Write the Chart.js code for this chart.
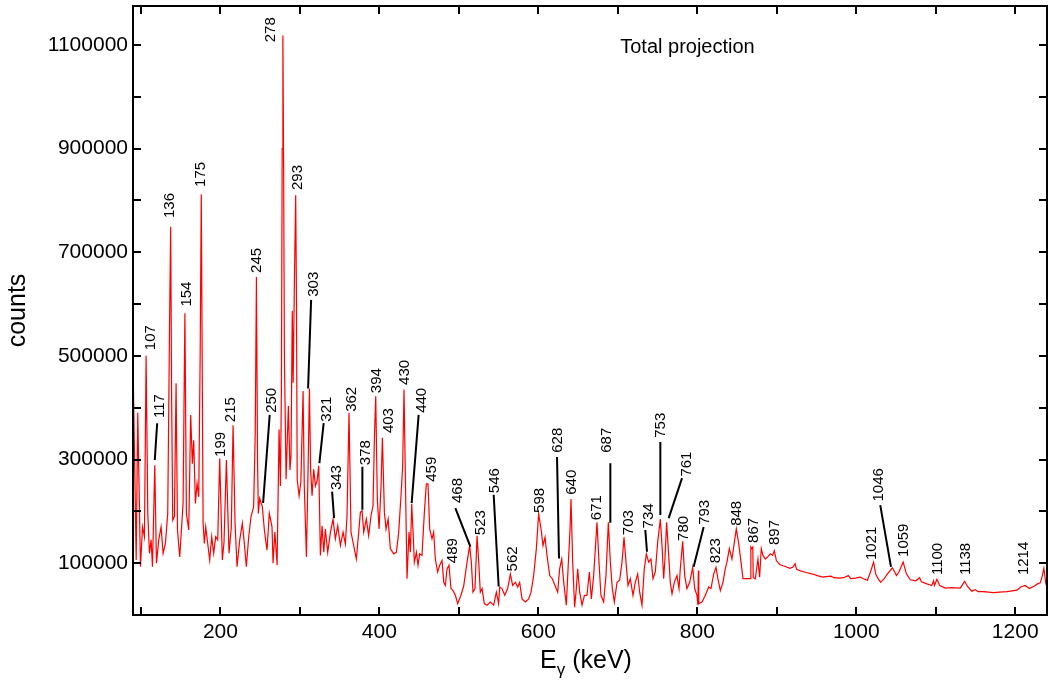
<!DOCTYPE html>
<html lang="en">
<head>
  <meta charset="UTF-8" />
  <title>Total projection</title>
  <script src="https://cdn.jsdelivr.net/npm/chart.js"></script>
  <style>
    * { margin: 0; padding: 0; box-sizing: border-box; }
    body { background: #fff; width: 1048px; height: 684px; overflow: hidden; }
    #wrap { width: 1048px; height: 684px; }
  </style>
</head>
<body>
  <div id="wrap"><canvas id="spec" width="1048" height="684"></canvas></div>

  <script>
    // spectrum: gamma energy (keV) and counts
    const energyKeV = [
      90.2, 94.0, 96.0, 99.4, 102.0, 104.4, 106.5, 108.6, 110.7, 112.8,
      114.5, 117.4, 119.5, 122.4, 125.3, 127.9, 130.8, 133.7, 136.0, 137.4,
      138.6, 140.0, 142.1, 144.2, 146.0, 148.8, 153.0, 155.3, 157.2, 160.1,
      162.6, 164.7, 166.4, 168.5, 170.6, 172.7, 174.5, 175.9, 177.2, 178.2,
      179.8, 181.5, 184.0, 186.5, 189.0, 191.5, 194.1, 196.6, 199.1, 202.4,
      204.5, 207.5, 210.8, 213.7, 215.9, 218.4, 220.9, 224.3, 227.6, 230.1,
      232.6, 235.6, 238.5, 241.8, 243.8, 245.3, 246.7, 247.7, 249.4, 252.7,
      255.3, 258.6, 261.5, 264.9, 266.2, 268.5, 271.3, 273.8, 275.5, 276.7,
      277.7, 278.6, 279.5, 280.5, 281.5, 282.6, 285.5, 287.5, 288.8, 290.4,
      291.5, 293.0, 294.7, 295.7, 296.6, 299.0, 301.2, 304.0, 305.5, 308.2,
      310.5, 312.0, 313.5, 315.3, 317.4, 319.5, 321.6, 323.7, 325.8, 327.9,
      330.0, 332.0, 335.0, 338.4, 341.7, 344.6, 347.6, 351.0, 354.3, 357.2,
      359.3, 361.8, 364.3, 367.7, 371.0, 374.0, 376.1, 378.2, 380.3, 383.6,
      386.5, 389.5, 392.0, 393.7, 395.4, 397.4, 399.6, 402.1, 403.8, 406.3,
      408.4, 411.0, 413.8, 418.0, 421.4, 424.3, 427.2, 429.3, 431.0, 433.1,
      434.8, 437.3, 439.0, 440.7, 442.4, 444.0, 446.6, 448.6, 450.7, 453.6,
      456.6, 459.1, 461.2, 463.3, 466.2, 468.3, 470.4, 473.3, 475.9, 478.8,
      481.0, 483.0, 485.1, 487.6, 490.1, 492.7, 495.6, 498.5, 501.9, 506.0,
      510.3, 513.6, 515.7, 517.8, 520.3, 522.9, 525.0, 527.0, 529.2, 532.0,
      535.4, 539.6, 543.8, 547.2, 550.0, 551.4, 554.3, 557.7, 561.4, 564.8,
      567.7, 571.1, 574.0, 576.5, 579.5, 583.7, 587.9, 590.8, 594.1, 597.5,
      600.4, 603.4, 605.9, 608.4, 610.9, 614.3, 617.6, 621.0, 624.3, 626.8,
      629.4, 631.9, 635.2, 637.8, 639.9, 641.1, 643.2, 645.7, 647.8, 649.5,
      652.0, 655.0, 658.0, 661.2, 664.2, 666.7, 669.6, 673.8, 676.3, 678.8,
      682.2, 685.1, 688.1, 690.6, 693.1, 695.6, 699.0, 702.3, 705.3, 707.8,
      710.3, 712.8, 715.7, 719.1, 722.0, 725.0, 727.5, 730.4, 733.3, 735.9,
      738.8, 741.7, 744.3, 747.2, 750.1, 753.5, 755.6, 757.7, 759.3, 761.4,
      764.0, 766.0, 768.2, 771.1, 774.4, 777.0, 778.6, 781.6, 784.2, 787.0,
      790.4, 794.2, 796.7, 799.6, 800.8, 801.3, 801.9, 805.9, 810.1, 814.3,
      817.2, 820.6, 823.5, 825.9, 829.0, 832.3, 835.2, 837.3, 840.3, 843.6,
      846.6, 849.1, 851.9, 855.0, 857.5, 862.5, 866.8, 867.4, 868.5, 869.8,
      870.4, 873.0, 876.3, 878.4, 880.5, 882.6, 885.6, 888.6, 891.9, 894.8,
      896.9, 899.5, 904.0, 910.0, 916.6, 920.0, 923.0, 925.0, 930.0, 937.0,
      945.0, 951.0, 957.7, 962.0, 968.0, 972.0, 978.6, 984.0, 990.0, 993.0,
      999.0, 1004.8, 1009.0, 1014.0, 1017.5, 1021.8, 1024.5, 1027.5, 1030.7, 1035.0,
      1039.0, 1045.5, 1050.6, 1054.0, 1059.0, 1063.0, 1068.0, 1075.0, 1079.7, 1082.0,
      1089.0, 1095.0, 1097.3, 1098.5, 1101.5, 1105.0, 1112.0, 1120.0, 1130.9, 1136.3,
      1140.0, 1145.5, 1150.0, 1153.0, 1160.0, 1172.8, 1180.0, 1189.6, 1202.2, 1207.0,
      1212.6, 1218.0, 1224.0, 1228.1, 1231.5, 1234.0, 1236.1, 1238.6, 1240.0
    ];
    const counts = [
      472000, 106000, 390000, 93000, 170000, 151000, 500000, 196000, 119000, 145000,
      93000, 289000, 100000, 145000, 170000, 119000, 138000, 196000, 560000, 749000,
      420000, 183000, 190000, 447000, 164000, 112000, 215000, 582000, 196000, 164000,
      386000, 292000, 337000, 215000, 254000, 228000, 500000, 812000, 450000, 177000,
      138000, 170000, 138000, 106000, 151000, 119000, 151000, 145000, 302000, 106000,
      140000, 299000, 119000, 170000, 366000, 177000, 93000, 145000, 177000, 138000,
      93000, 151000, 190000, 209000, 350000, 652000, 300000, 196000, 225000, 209000,
      164000, 125000, 196000, 170000, 100000, 160000, 96000, 358000, 249000, 429000,
      900000, 1118000, 868000, 500000, 384000, 262000, 403000, 280000, 307000, 587000,
      448000, 634000, 810000, 600000, 262000, 230000, 256000, 432000, 250000, 112000,
      300000, 437000, 280000, 230000, 281000, 249000, 259000, 288000, 115000, 172000,
      121000, 166000, 121000, 160000, 185000, 147000, 172000, 134000, 160000, 137000,
      192000, 390000, 160000, 134000, 108000, 160000, 198000, 201000, 160000, 185000,
      153000, 192000, 211000, 339000, 422000, 224000, 166000, 249000, 342000, 198000,
      166000, 185000, 128000, 118000, 121000, 160000, 230000, 288000, 435000, 224000,
      70000, 160000, 121000, 214000, 160000, 102000, 121000, 96000, 118000, 115000,
      198000, 253000, 253000, 166000, 147000, 160000, 108000, 83000, 96000, 105000,
      63000, 57000, 89000, 96000, 51000, 47000, 38000, 22000, 35000, 55000,
      102000, 134000, 102000, 44000, 51000, 153000, 102000, 44000, 51000, 22000,
      19000, 25000, 19000, 44000, 22000, 54000, 51000, 38000, 51000, 79000,
      57000, 63000, 54000, 63000, 31000, 25000, 31000, 44000, 76000, 128000,
      195000, 166000, 134000, 150000, 115000, 76000, 70000, 57000, 44000, 89000,
      108000, 63000, 19000, 102000, 166000, 224000, 102000, 15000, 51000, 89000,
      44000, 19000, 38000, 38000, 83000, 31000, 76000, 179000, 102000, 38000,
      25000, 76000, 179000, 102000, 51000, 25000, 63000, 67000, 102000, 150000,
      102000, 57000, 70000, 38000, 63000, 79000, 44000, 19000, 89000, 118000,
      102000, 108000, 70000, 83000, 140000, 185000, 134000, 70000, 108000, 179000,
      115000, 63000, 41000, 63000, 76000, 51000, 89000, 142000, 76000, 51000,
      63000, 92000, 51000, 38000, 19000, 86000, 22000, 25000, 38000, 54000,
      51000, 79000, 92000, 70000, 47000, 63000, 89000, 102000, 128000, 108000,
      140000, 166000, 140000, 102000, 70000, 70000, 70000, 131000, 128000, 131000,
      72000, 70000, 108000, 73000, 128000, 115000, 108000, 112000, 118000, 115000,
      124000, 105000, 97000, 94000, 90000, 92000, 99000, 88000, 85000, 82000,
      79000, 76000, 73000, 74000, 75000, 72000, 71000, 72000, 76000, 70000,
      71000, 73000, 70000, 67000, 81000, 102000, 79000, 70000, 63000, 70000,
      79000, 91000, 76000, 84000, 102000, 80000, 68000, 66000, 72000, 64000,
      60000, 57000, 66000, 57000, 69000, 57000, 52000, 53000, 52000, 65000,
      55000, 46000, 49000, 45000, 45000, 43000, 44000, 45000, 48000, 54000,
      57000, 51000, 56000, 60000, 62000, 75000, 90000, 60000, 55000
    ];

    // tick positions (every 100 keV / 100000 counts) and which ones carry a label
    const xTicks = [100, 200, 300, 400, 500, 600, 700, 800, 900, 1000, 1100, 1200];
    const xTickLabels = [200, 400, 600, 800, 1000, 1200];
    const yTicks = [100000, 200000, 300000, 400000, 500000, 600000, 700000, 800000, 900000, 1000000, 1100000];
    const yTickLabels = [100000, 300000, 500000, 700000, 900000, 1100000];

    // peak labels: text, energy of the text column, counts where the text starts
    const peakNames = ['107', '117', '136', '154', '175', '199', '215', '245', '250', '278',
      '293', '303', '321', '343', '362', '378', '394', '403', '430', '440',
      '459', '468', '489', '523', '546', '562', '598', '628', '640', '671',
      '687', '703', '734', '753', '761', '780', '793', '823', '848', '867',
      '897', '1021', '1046', '1059', '1100', '1138', '1214'];
    const peakLabelE = [112.0, 123.6, 136.2, 158.1, 175.7, 200.0, 213.5, 246.2, 265.0, 262.9,
      297.7, 317.4, 334.2, 345.9, 365.7, 383.3, 397.1, 411.7, 431.8, 453.7,
      466.3, 498.5, 492.7, 527.1, 545.0, 567.7, 601.7, 624.3, 642.4, 673.8,
      686.4, 713.6, 738.8, 754.7, 787.1, 783.7, 810.1, 823.9, 849.9, 870.8,
      898.1, 1019.8, 1028.1, 1060.4, 1102.8, 1138.0, 1210.5];
    const peakLabelC = [511000, 380000, 766000, 595000, 826000, 305000, 372000, 660000, 390000, 1105000,
      820000, 614000, 373000, 241000, 392000, 289000, 428000, 351000, 444000, 390000,
      257000, 216000, 100000, 154000, 235000, 84000, 197000, 313000, 232000, 183000,
      313000, 154000, 167000, 342000, 267000, 143000, 174000, 100000, 172000, 139000,
      135000, 106000, 219000, 112000, 77000, 77000, 77000];

    // black leader lines from a label to its peak
    const leaderFromE = [120.4, 262.0, 314.1, 329.9, 340.5, 378.6, 449.4, 495.6, 543.8, 623.5, 690.6, 734.6, 753.5, 780.8, 808.0, 1030.2];
    const leaderFromC = [370000, 386000, 608000, 370000, 238000, 286000, 386000, 206000, 232000, 305000, 293000, 164000, 334000, 264000, 170000, 212000];
    const leaderToE = [117.4, 253.7, 310.3, 324.5, 343.0, 378.6, 440.6, 514.5, 550.1, 626.0, 690.6, 736.7, 753.5, 764.0, 795.4, 1043.7];
    const leaderToC = [299000, 216000, 437000, 293000, 187000, 203000, 216000, 132000, 55000, 109000, 178000, 122000, 193000, 187000, 93000, 93000];

    const FONT = "'Liberation Sans', Arial, Helvetica, sans-serif";
    Chart.defaults.font.family = FONT;
    Chart.defaults.color = '#000';

    // frame with inward ticks on all four sides, labels and titles
    const frame = {
      id: 'frame',
      afterDatasetsDraw(chart) {
        const { ctx, chartArea: a, scales: { x, y } } = chart;
        ctx.save();

        // leader lines
        ctx.strokeStyle = '#000';
        ctx.lineWidth = 2;
        ctx.beginPath();
        leaderFromE.forEach((e, i) => {
          ctx.moveTo(x.getPixelForValue(e), y.getPixelForValue(leaderFromC[i]));
          ctx.lineTo(x.getPixelForValue(leaderToE[i]), y.getPixelForValue(leaderToC[i]));
        });
        ctx.stroke();

        // peak energies, rotated
        ctx.fillStyle = '#000';
        ctx.font = '15px ' + FONT;
        ctx.textAlign = 'left';
        ctx.textBaseline = 'middle';
        peakNames.forEach((txt, i) => {
          ctx.save();
          ctx.translate(x.getPixelForValue(peakLabelE[i]), y.getPixelForValue(peakLabelC[i]));
          ctx.rotate(-Math.PI / 2);
          ctx.fillText(txt, 0, 0);
          ctx.restore();
        });

        // Total projection
        ctx.font = '20px ' + FONT;
        ctx.textBaseline = 'alphabetic';
        ctx.fillText('Total projection', x.getPixelForValue(703), y.getPixelForValue(1084000));

        // box
        ctx.lineWidth = 2;
        ctx.strokeRect(a.left, a.top, a.right - a.left, a.bottom - a.top);

        // inward ticks
        ctx.beginPath();
        x.ticks.forEach(t => {
          const px = Math.round(x.getPixelForValue(t.value));
          ctx.moveTo(px, a.bottom); ctx.lineTo(px, a.bottom - 8);
          ctx.moveTo(px, a.top); ctx.lineTo(px, a.top + 8);
        });
        y.ticks.forEach(t => {
          const py = Math.round(y.getPixelForValue(t.value));
          ctx.moveTo(a.left, py); ctx.lineTo(a.left + 8, py);
          ctx.moveTo(a.right, py); ctx.lineTo(a.right - 8, py);
        });
        ctx.stroke();

        // axis titles
        ctx.font = '25px ' + FONT;
        ctx.textBaseline = 'alphabetic';
        ctx.save();
        ctx.translate(25, (a.top + a.bottom) / 2);
        ctx.rotate(-Math.PI / 2);
        ctx.textAlign = 'center';
        ctx.fillText('counts', 0, 0);
        ctx.restore();

        const big = '25px ' + FONT, small = '17px ' + FONT;
        ctx.font = big;
        const wE = ctx.measureText('E').width;
        const wRest = ctx.measureText(' (keV)').width;
        ctx.font = small;
        const wG = ctx.measureText('γ').width;
        let sx = (a.left + a.right) / 2 - (wE + wG + wRest) / 2 - 4;
        const base = 668;
        ctx.textAlign = 'left';
        ctx.font = big;
        ctx.fillText('E', sx, base);
        sx += wE;
        ctx.font = small;
        ctx.fillText('γ', sx, base + 7);
        sx += wG;
        ctx.font = big;
        ctx.fillText(' (keV)', sx, base);

        ctx.restore();
      }
    };

    const chart = new Chart(document.getElementById('spec'), {
      type: 'line',
      data: {
        datasets: [{
          data: energyKeV.map((e, i) => ({ x: e, y: counts[i] })),
          borderColor: '#ff0000',
          borderWidth: 1.2,
          pointRadius: 0,
          tension: 0,
          fill: false
        }]
      },
      options: {
        responsive: false,
        animation: false,
        layout: { padding: { top: 6, right: 1, left: 0, bottom: 0 } },
        plugins: {
          legend: { display: false },
          tooltip: { enabled: false }
        },
        scales: {
          x: {
            type: 'linear',
            min: 90,
            max: 1240,
            grid: { display: false, drawTicks: false },
            border: { display: false },
            ticks: {
              autoSkip: false,
              maxRotation: 0,
              padding: 5,
              color: '#000',
              font: { size: 21 },
              callback: v => (xTickLabels.includes(v) ? String(v) : '')
            },
            afterBuildTicks: s => { s.ticks = xTicks.map(v => ({ value: v })); },
            afterFit: s => {
              s.height = 69;
              s.paddingLeft = 0; s.paddingRight = 0;
            }
          },
          y: {
            min: 0,
            max: 1175000,
            grid: { display: false, drawTicks: false },
            border: { display: false },
            ticks: {
              autoSkip: false,
              padding: 5,
              color: '#000',
              font: { size: 21 },
              callback: v => (yTickLabels.includes(v) ? String(v) : '')
            },
            afterBuildTicks: s => { s.ticks = yTicks.map(v => ({ value: v })); },
            afterFit: s => {
              s.width = 133;
              s.paddingTop = 0; s.paddingBottom = 0;
            }
          }
        }
      },
      plugins: [frame]
    });
  </script>
</body>
</html>
